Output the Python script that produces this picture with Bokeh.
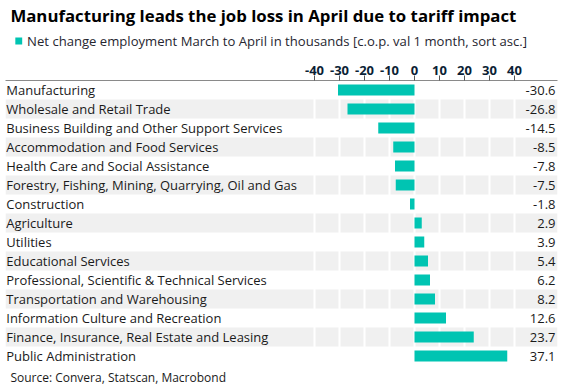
from bokeh.plotting import figure
from bokeh.models import Range1d, FixedTicker
from bokeh.layouts import column
from bokeh.core.properties import value
from bokeh.embed import file_html
from bokeh.resources import INLINE

categories = [
    "Manufacturing",
    "Wholesale and Retail Trade",
    "Business Building and Other Support Services",
    "Accommodation and Food Services",
    "Health Care and Social Assistance",
    "Forestry, Fishing, Mining, Quarrying, Oil and Gas",
    "Construction",
    "Agriculture",
    "Utilities",
    "Educational Services",
    "Professional, Scientific & Technical Services",
    "Transportation and Warehousing",
    "Information Culture and Recreation",
    "Finance, Insurance, Real Estate and Leasing",
    "Public Administration",
]
values = [-30.6, -26.8, -14.5, -8.5, -7.8, -7.5, -1.8, 2.9, 3.9, 5.4, 6.2, 8.2, 12.6, 23.7, 37.1]
value_labels = ["-30.6", "-26.8", "-14.5", "-8.5", "-7.8", "-7.5", "-1.8", "2.9", "3.9", "5.4",
                "6.2", "8.2", "12.6", "23.7", "37.1"]
ticks = [-40, -30, -20, -10, 0, 10, 20, 30, 40]
tick_labels = ["-40", "-30", "-20", "-10", "0", "10", "20", "30", "40"]

TITLE = "Manufacturing leads the job loss in April due to tariff impact"
SERIES = "Net change employment March to April in thousands [c.o.p. val 1 month, sort asc.]"
SOURCE = "Source: Convera, Statscan, Macrobond"

FONT = "Open Sans"
TEAL = "#00c4b2"
TXT = "#1a1a1a"
W = 562


def blank(h):
    f = figure(width=W, height=h, output_backend="svg", toolbar_location=None,
               x_range=Range1d(0, W), y_range=Range1d(h, 0),
               min_border_left=0, min_border_right=0, min_border_top=0, min_border_bottom=0)
    f.axis.visible = False
    f.grid.visible = False
    f.outline_line_color = None
    f.border_fill_color = "white"
    return f


# ---- header: title + legend ----
HEAD_H = 56
head = blank(HEAD_H)
head.text(x=[5], y=[14.5], text=[TITLE], text_font=value(FONT), text_font_style="bold",
          text_font_size="16.8px", text_color="#000000", text_baseline="middle")
head.quad(left=[10], right=[17], top=[37], bottom=[44], fill_color=TEAL, line_color=None)
head.text(x=[22], y=[40.5], text=[SERIES], text_font=value(FONT), text_font_size="13.1px",
          text_color="#262630", text_baseline="middle")

# ---- main chart ----
n = len(categories)
rows = list(range(n))
X_LO, X_HI = -163.6, 57.2
MAIN_H = 310

p = figure(width=W, height=MAIN_H, output_backend="svg", toolbar_location=None,
           x_range=Range1d(X_LO, X_HI), y_range=Range1d(n - 0.5, -0.5),
           x_axis_location="above", min_border_left=5, min_border_right=5,
           min_border_bottom=1, min_border_top=24)
p.outline_line_color = None
p.border_fill_color = "white"
p.yaxis.visible = False
p.xgrid.visible = False
p.ygrid.visible = False

band_rows = [i for i in rows if i % 2 == 1]
p.hbar(y=band_rows, left=X_LO, right=X_HI, height=1.0, fill_color="#f0f0f0", line_color=None)
p.segment(x0=ticks, x1=ticks, y0=-0.5, y1=n - 0.5, line_color="white", line_width=2)

p.hbar(y=rows, left=0, right=values, height=0.58, fill_color=TEAL, line_color=None)

p.text(x=[X_LO + 0.3] * n, y=rows, text=categories, text_font=value(FONT), text_baseline="middle",
       text_align="left", text_font_size="13px", text_color=TXT)
p.text(x=[X_HI - 0.8] * n, y=rows, text=value_labels, text_font=value(FONT), text_baseline="middle",
       text_align="right", text_font_size="13px", text_color=TXT)

ax = p.xaxis[0]
ax.ticker = FixedTicker(ticks=ticks)
ax.major_label_overrides = dict(zip(ticks, tick_labels))
ax.major_tick_out = 5
ax.major_tick_in = 0
ax.minor_tick_out = 0
ax.minor_tick_in = 0
ax.axis_line_color = "#8a8a8a"
ax.major_tick_line_color = "#555555"
ax.major_label_text_font = FONT
ax.major_label_text_font_style = "bold"
ax.major_label_text_font_size = "13px"
ax.major_label_text_color = "#0b1e35"
ax.major_label_standoff = 1

# ---- footer: source ----
FOOT_H = 389 - HEAD_H - MAIN_H
foot = blank(FOOT_H)
foot.text(x=[5], y=[10.5], text=[SOURCE], text_font=value(FONT), text_font_size="12px",
          text_color=TXT, text_baseline="middle")

layout = column(head, p, foot, spacing=0)
open("out.html", "w").write(file_html(layout, INLINE))
